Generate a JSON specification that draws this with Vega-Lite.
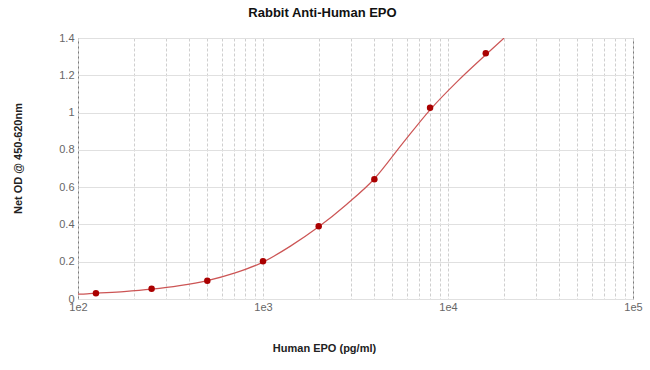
{
  "$schema": "https://vega.github.io/schema/vega-lite/v6.json",
  "width": 555,
  "height": 261,
  "autosize": {"type": "none"},
  "padding": {"left": 78, "top": 38, "right": 17, "bottom": 71},
  "background": "white",
  "title": {
    "text": "Rabbit Anti-Human EPO",
    "font": "Liberation Sans",
    "fontSize": 13,
    "fontWeight": "bold",
    "color": "#111111",
    "anchor": "middle",
    "dx": -33,
    "offset": 12
  },
  "config": {
    "view": {"stroke": "#7a7a7a", "strokeWidth": 1},
    "font": "Liberation Sans"
  },
  "datasets": {
    "curve": [
      {"conc": 100, "od": 0.026},
      {"conc": 112, "od": 0.028},
      {"conc": 125, "od": 0.031},
      {"conc": 177, "od": 0.040},
      {"conc": 250, "od": 0.053},
      {"conc": 354, "od": 0.072},
      {"conc": 500, "od": 0.099},
      {"conc": 707, "od": 0.140},
      {"conc": 1000, "od": 0.198},
      {"conc": 1414, "od": 0.285},
      {"conc": 2000, "od": 0.387},
      {"conc": 2828, "od": 0.507},
      {"conc": 4000, "od": 0.645},
      {"conc": 5657, "od": 0.832},
      {"conc": 8000, "od": 1.015},
      {"conc": 11314, "od": 1.170},
      {"conc": 16000, "od": 1.310},
      {"conc": 20100, "od": 1.400}
    ],
    "points": [
      {"conc": 125, "od": 0.031},
      {"conc": 250, "od": 0.055},
      {"conc": 500, "od": 0.098},
      {"conc": 1000, "od": 0.202},
      {"conc": 2000, "od": 0.390},
      {"conc": 4000, "od": 0.642},
      {"conc": 8000, "od": 1.026},
      {"conc": 16000, "od": 1.318}
    ]
  },
  "encoding": {
    "x": {
      "field": "conc",
      "type": "quantitative",
      "scale": {"type": "log", "domain": [100, 100000], "nice": false},
      "axis": {
        "title": "Human EPO (pg/ml)",
        "titleFont": "Liberation Sans",
        "titleFontSize": 11,
        "titleFontWeight": "bold",
        "titleColor": "#222222",
        "titleX": 246,
        "titleY": 49,
        "titleAlign": "center",
        "titleBaseline": "middle",
        "values": [100, 200, 300, 400, 500, 600, 700, 800, 900, 1000, 2000, 3000, 4000, 5000, 6000, 7000, 8000, 9000, 10000, 20000, 30000, 40000, 50000, 60000, 70000, 80000, 90000, 100000],
        "labelExpr": "datum.value == 100 ? '1e2' : datum.value == 1000 ? '1e3' : datum.value == 10000 ? '1e4' : datum.value == 100000 ? '1e5' : ''",
        "labelOverlap": false,
        "labelFlush": false,
        "labelFontSize": 11,
        "labelColor": "#666666",
        "labelPadding": 2,
        "ticks": false,
        "domain": false,
        "grid": true,
        "gridColor": "#cfcfcf",
        "gridDash": [3, 2],
        "gridWidth": 1
      }
    },
    "y": {
      "field": "od",
      "type": "quantitative",
      "scale": {"domain": [0, 1.4], "nice": false},
      "axis": {
        "title": "Net OD @ 450-620nm",
        "titleFont": "Liberation Sans",
        "titleFontSize": 11,
        "titleFontWeight": "bold",
        "titleColor": "#222222",
        "titleX": -60,
        "titleY": 120,
        "titleAngle": -90,
        "titleAlign": "center",
        "titleBaseline": "middle",
        "values": [0, 0.2, 0.4, 0.6, 0.8, 1, 1.2, 1.4],
        "format": "~g",
        "labelOverlap": false,
        "labelFlush": false,
        "labelFontSize": 11,
        "labelColor": "#666666",
        "labelPadding": 4,
        "ticks": false,
        "domain": false,
        "grid": true,
        "gridColor": "#e0e0e0",
        "gridWidth": 1
      }
    }
  },
  "layer": [
    {
      "data": {"name": "curve"},
      "mark": {"type": "line", "color": "#cc5555", "strokeWidth": 1.2, "interpolate": "monotone", "clip": true}
    },
    {
      "data": {"name": "points"},
      "mark": {"type": "circle", "color": "#aa0000", "size": 42, "opacity": 1}
    }
  ]
}
